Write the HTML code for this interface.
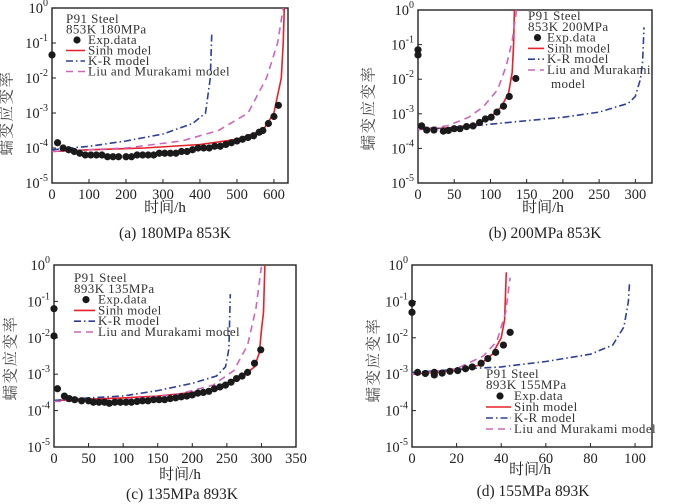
<!DOCTYPE html>
<html><head><meta charset="utf-8">
<style>
html,body{margin:0;padding:0;background:#fff;}
svg{display:block;font-family:"Liberation Serif","Noto Serif CJK SC","Noto Sans CJK SC",serif;}
</style></head>
<body>
<svg id="fig" width="700" height="504" viewBox="0 0 700 504" xmlns="http://www.w3.org/2000/svg"></svg>
<script>
// ---- data: [time h, log10(strain rate)] ----
const aExp=[[0,-1.34],[15,-3.85],[30,-4.0],[45,-4.05],[60,-4.1],[75,-4.15],[90,-4.2],[105,-4.2],[120,-4.2],[135,-4.2],[150,-4.25],[165,-4.25],[180,-4.25],[200,-4.25],[215,-4.25],[230,-4.2],[245,-4.2],[260,-4.2],[275,-4.2],[290,-4.15],[305,-4.15],[320,-4.15],[335,-4.15],[350,-4.1],[365,-4.1],[380,-4.05],[395,-4.0],[410,-4.0],[425,-4.0],[440,-3.95],[455,-3.95],[470,-3.9],[485,-3.85],[500,-3.8],[515,-3.75],[530,-3.7],[545,-3.65],[560,-3.55],[570,-3.5],[585,-3.3],[600,-3.1],[612,-2.78]];
const aSinh=[[0,-4.1],[100,-4.05],[250,-4.0],[400,-3.9],[500,-3.75],[570,-3.5],[600,-3.0],[620,-2.0],[625,-1.0],[628,0]];
const aKR=[[0,-4.05],[100,-3.95],[200,-3.8],[300,-3.6],[380,-3.3],[415,-3.0],[428,-2.0],[432,-0.7]];
const aLiu=[[0,-4.1],[200,-4.0],[350,-3.8],[450,-3.5],[530,-3.0],[580,-2.0],[610,-1.0],[625,0]];

const bExp=[[0,-1.15],[0,-1.3],[5,-3.35],[12,-3.47],[22,-3.47],[35,-3.5],[42,-3.48],[50,-3.43],[58,-3.43],[67,-3.37],[76,-3.35],[85,-3.25],[93,-3.15],[101,-3.1],[109,-2.95],[118,-2.78],[126,-2.5],[135,-1.98]];
const bSinh=[[0,-3.45],[50,-3.4],[80,-3.3],[100,-3.1],[115,-2.8],[125,-2.4],[130,-1.8],[132,-1],[133,0]];
const bKR=[[0,-3.45],[50,-3.4],[100,-3.3],[150,-3.2],[200,-3.1],[250,-2.95],[290,-2.7],[300,-2.5],[307,-2.0],[310,-1.5],[312,-0.5]];
const bLiu=[[0,-3.45],[40,-3.35],[70,-3.1],[90,-2.8],[110,-2.3],[122,-1.6],[130,-0.9],[136,0]];

const cExp=[[0,-1.2],[0,-1.95],[5,-3.4],[15,-3.6],[22,-3.67],[30,-3.7],[40,-3.73],[50,-3.73],[57,-3.77],[65,-3.77],[73,-3.77],[80,-3.8],[88,-3.77],[96,-3.77],[104,-3.77],[112,-3.77],[120,-3.75],[128,-3.73],[136,-3.73],[144,-3.7],[152,-3.7],[160,-3.7],[168,-3.67],[176,-3.65],[184,-3.62],[192,-3.6],[200,-3.57],[208,-3.52],[216,-3.5],[224,-3.47],[232,-3.4],[240,-3.35],[248,-3.3],[256,-3.22],[264,-3.12],[272,-3.05],[280,-2.95],[290,-2.7],[299,-2.33]];
const cSinh=[[0,-3.72],[100,-3.65],[150,-3.6],[200,-3.5],[240,-3.4],[270,-3.1],[290,-2.8],[297,-2.4],[300,-1.8],[303,-1.3],[305,0]];
const cKR=[[0,-3.72],[50,-3.65],[100,-3.6],[150,-3.45],[200,-3.25],[235,-3.05],[248,-2.8],[253,-2.3],[255,-0.8]];
const cLiu=[[0,-3.75],[100,-3.7],[180,-3.55],[230,-3.3],[260,-2.9],[280,-2.2],[292,-1.2],[300,-0.05]];

const dExp=[[0,-1.05],[0,-1.3],[2.5,-2.95],[6,-2.98],[10,-3.02],[10,-2.95],[13.5,-2.97],[17,-2.92],[20.5,-2.9],[24,-2.85],[27,-2.8],[31,-2.7],[34,-2.57],[37.5,-2.4],[41,-2.2],[44,-1.85]];
const dSinh=[[0,-3],[20,-2.9],[30,-2.75],[36,-2.45],[40,-2.0],[41.5,-1.5],[42.3,-0.2]];
const dKR=[[0,-2.95],[25,-2.85],[40,-2.8],[60,-2.65],[80,-2.45],[90,-2.2],[95,-1.7],[97,-1.0],[97.5,-0.5]];
const dLiu=[[0,-3],[20,-2.85],[32,-2.5],[38,-2.1],[42,-1.3],[44,-0.35]];

const aXTicks=[0,100,200,300,400,500,600];
const bXTicks=[0,50,100,150,200,250,300];
const cXTicks=[0,50,100,150,200,250,300,350];
const dXTicks=[0,20,40,60,80,100];
const yTicks=[0,-1,-2,-3,-4,-5];

const NS='http://www.w3.org/2000/svg';
const svg=document.getElementById('fig');
function mk(tag,attrs,parent){const e=document.createElementNS(NS,tag);for(const k in attrs)e.setAttribute(k,attrs[k]);(parent||svg).appendChild(e);return e;}

const panels=[
 {id:'a',L:52,R:288,T:8,B:183,xmax:638,xt:aXTicks,exp:aExp,sinh:aSinh,kr:aKR,liu:aLiu,
  ylx:8,yly:113,xtx:165,xty:212,cap:'(a)  180MPa 853K',capx:175,capy:238,
  leg:{x:66,tx:88,s1:'P91 Steel',s2:'853K 180MPa',y0:23,dy:10.5,liuLines:['Liu and Murakami model']}},
 {id:'b',L:418,R:652,T:10,B:183,xmax:323,xt:bXTicks,exp:bExp,sinh:bSinh,kr:bKR,liu:bLiu,
  ylx:370,yly:108,xtx:543,xty:212,cap:'(b) 200MPa 853K',capx:545,capy:238,
  leg:{x:528,tx:547,s1:'P91 Steel',s2:'853K 200MPa',y0:20,dy:10.8,liuLines:['Liu and Murakami','model']}},
 {id:'c',L:54,R:296,T:265,B:447,xmax:350,xt:cXTicks,exp:cExp,sinh:cSinh,kr:cKR,liu:cLiu,
  ylx:12,yly:358,xtx:180,xty:479,cap:'(c) 135MPa 893K',capx:182,capy:499,
  leg:{x:74,tx:98,s1:'P91 Steel',s2:'893K 135MPa',y0:282,dy:10.8,liuLines:['Liu and Murakami model']}},
 {id:'d',L:412,R:652,T:265,B:447,xmax:107.6,xt:dXTicks,exp:dExp,sinh:dSinh,kr:dKR,liu:dLiu,
  ylx:375,yly:360,xtx:530,xty:474,cap:'(d) 155MPa 893K',capx:533,capy:496,
  leg:{x:486,tx:514,s1:'P91 Steel',s2:'893K 155MPa',y0:378,dy:11,liuLines:['Liu and Murakami model']}}
];

const styles={
 sinh:{stroke:'#e8202a',dash:'',w:1.6},
 kr:{stroke:'#2e3f95',dash:'7,3,1.5,3',w:1.6},
 liu:{stroke:'#cc66b8',dash:'7,5',w:1.6}
};

panels.forEach(p=>{
 const g=mk('g',{});
 
 
 const xs=v=>p.L+(v/p.xmax)*(p.R-p.L);
 const ys=v=>p.T+(0-v)/5*(p.B-p.T);
 const clip=mk('clipPath',{id:'clip-'+p.id},g);
 mk('rect',{x:p.L,y:p.T,width:p.R-p.L,height:p.B-p.T},clip);
 const fr=mk('rect',{x:p.L,y:p.T,width:p.R-p.L,height:p.B-p.T,fill:'none',stroke:'#222','stroke-width':1.4},g);
 
 
 p.xt.forEach(t=>{
  const x=xs(t);
  mk('line',{x1:x,x2:x,y1:p.B,y2:p.B-4,stroke:'#222','stroke-width':1},g);
  const tl=mk('text',{x:x,y:p.B+16,'font-size':14.5,'text-anchor':'middle',fill:'#222'},g);
  tl.textContent=t;
  
  
 });
 yTicks.forEach(t=>{
  const y=ys(t);
  mk('line',{x1:p.L,x2:p.L+4,y1:y,y2:y,stroke:'#222','stroke-width':1},g);
  const tl=mk('text',{x:p.L-4,y:y+5,'font-size':14.5,'text-anchor':'end',fill:'#222'},g);
  const b=mk('tspan',{},tl);b.textContent='10';
  const s=mk('tspan',{dy:-7,'font-size':10},tl);s.textContent=String(t);
  
  
 });
 const plotG=mk('g',{'clip-path':'url(#clip-'+p.id+')'},g);
 [['sinh',p.sinh],['kr',p.kr],['liu',p.liu]].forEach(([k,arr])=>{
  const st=styles[k];
  const d=arr.map((pt,i)=>(i?'L':'M')+xs(pt[0]).toFixed(1)+','+ys(pt[1]).toFixed(1)).join(' ');
  const path=mk('path',{d:d,fill:'none',stroke:st.stroke,'stroke-width':st.w,'stroke-dasharray':st.dash},plotG);
  
  
 });
 p.exp.forEach(pt=>{
  const c=mk('circle',{cx:xs(pt[0]),cy:ys(pt[1]),r:3.6,fill:'#1a1a1a'},g);
  
  
 });
 const yl=mk('text',{x:p.ylx,y:p.yly,'font-size':15.5,'letter-spacing':1.5,'text-anchor':'middle',fill:'#444',transform:'rotate(-90 '+p.ylx+' '+p.yly+')','dominant-baseline':'middle'},g);
 yl.textContent='蠕变应变率';
 
 
 const xl=mk('text',{x:p.xtx,y:p.xty,'font-size':15,'text-anchor':'middle',fill:'#222'},g);
 xl.textContent='时间/h';
 
 
 const cap=mk('text',{x:p.capx,y:p.capy,'font-size':15.5,'text-anchor':'middle',fill:'#222'},g);
 cap.textContent=p.cap;
 
 
 const L=p.leg;
 const lg=mk('g',{},g);
 
 
 const t1=mk('text',{x:L.x,y:L.y0,'font-size':13,'letter-spacing':0.4,fill:'#333'},lg);t1.textContent=L.s1;
 const t2=mk('text',{x:L.x,y:L.y0+L.dy,'font-size':13,'letter-spacing':0.4,fill:'#333'},lg);t2.textContent=L.s2;
 const ent=[['Exp.data',null],['Sinh model','sinh'],['K-R model','kr'],[L.liuLines[0],'liu']];
 ent.forEach((e,i)=>{
  const y=L.y0+L.dy*(i+2);
  const eg=mk('g',{},lg);
  
  
  if(e[1]===null){mk('circle',{cx:(L.x+L.tx)/2,cy:y-4,r:3.6,fill:'#1a1a1a'},eg);}
  else{const st=styles[e[1]];mk('line',{x1:L.x,x2:L.tx-3,y1:y-4,y2:y-4,stroke:st.stroke,'stroke-width':1.6,'stroke-dasharray':st.dash},eg);}
  const tt=mk('text',{x:L.tx,y:y,'font-size':13,'letter-spacing':0.4,fill:'#333'},eg);tt.textContent=e[0];
 });
 if(L.liuLines.length>1){
  const tt=mk('text',{x:L.tx+4,y:L.y0+L.dy*6+3,'font-size':13,'letter-spacing':0.4,fill:'#333'},lg);tt.textContent=L.liuLines[1];
 }
});
</script>
</body></html>
